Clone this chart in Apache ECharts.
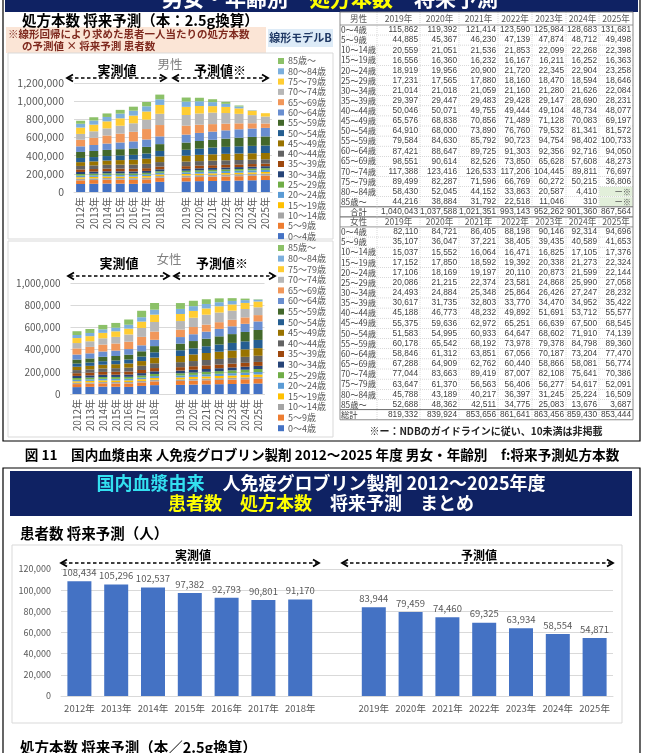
<!DOCTYPE html>
<html><head><meta charset="utf-8">
<script src="https://cdn.jsdelivr.net/npm/echarts@6/dist/echarts.min.js"></script>
<style>html,body{margin:0;padding:0;background:#fff}#c{width:645px;height:753px}</style>
</head><body><div id="c"></div>
<script>
// ---------- DATA ----------
const ageGroups = ['0～4歳','5～9歳','10～14歳','15～19歳','20～24歳','25～29歳','30～34歳','35～39歳','40～44歳','45～49歳','50～54歳','55～59歳','60～64歳','65～69歳','70～74歳','75～79歳','80～84歳','85歳～'];
const actualYears = ['2012年','2013年','2014年','2015年','2016年','2017年','2018年'];
const forecastYears = ['2019年','2020年','2021年','2022年','2023年','2024年','2025年'];

// male prescriptions 2012-2018, one row per age group
const maleActual = [
 [88200,90500,93100,91800,89600,95300,111900],
 [40100,41200,42300,43000,43500,43900,44400],
 [18200,18600,19000,19300,19500,19800,20100],
 [15800,16000,16200,16300,16400,16500,16600],
 [17300,17400,17600,17700,17900,18100,18300],
 [18400,18200,17900,17700,17500,17300,17100],
 [22600,22400,22200,22000,21800,21700,21500],
 [28100,28500,28900,29200,29400,29600,29800],
 [38200,40100,42300,44200,46000,47900,49800],
 [41800,44300,47100,50200,53400,57100,62300],
 [46300,47600,49200,51100,53600,56800,60200],
 [65800,66400,67300,68900,70800,72600,75100],
 [62100,66300,70400,74200,77900,81600,85200],
 [72300,80100,88600,97200,105400,114800,124900],
 [64200,70800,78300,86900,93800,104200,123800],
 [69800,73400,77600,81500,84800,89200,97600],
 [42100,45300,48200,51400,53900,57100,61800],
 [33100,35800,38700,41600,44100,47200,51900]
];
// male prescriptions 2019-2025 (table)
const maleForecast = [
 [115862,119392,121414,123590,125984,128683,131681],
 [44885,45367,46230,47139,47874,48712,49498],
 [20559,21051,21536,21853,22099,22268,22398],
 [16556,16360,16232,16167,16211,16252,16363],
 [18919,19956,20900,21720,22345,22904,23258],
 [17231,17565,17880,18160,18470,18594,18646],
 [21014,21018,21059,21160,21280,21626,22084],
 [29397,29447,29483,29428,29147,28690,28231],
 [50046,50071,49755,49444,49104,48734,48077],
 [65576,68838,70856,71489,71128,70083,69197],
 [64910,68000,73890,76760,79532,81341,81572],
 [79584,84630,85792,90723,94754,98402,100733],
 [87421,88647,89725,91303,92356,92716,94050],
 [98551,90614,82526,73850,65628,57608,48273],
 [117388,123416,126533,117206,104445,89811,76697],
 [89499,82287,71596,66769,60272,50215,36806],
 [58430,52045,44152,33863,20587,4410,null],
 [44216,38884,31792,22518,11046,310,null]
];
const maleForecastTotal = [1040043,1037588,1021351,993143,952262,901360,867564];

// female prescriptions 2012-2018
const femaleActual = [
 [62100,64300,66800,65200,64100,72900,79800],
 [27200,28100,29300,29800,30600,31400,34200],
 [12100,12400,12800,13100,13400,13800,14600],
 [13200,13500,13900,14200,14600,15100,16400],
 [13100,13400,13800,14200,14600,15200,16300],
 [16200,16400,16800,17100,17500,18100,19400],
 [19300,19600,20100,20400,21000,21800,23600],
 [24100,24600,25300,25900,26700,27800,29500],
 [28300,29600,31200,32800,34700,38100,42900],
 [30200,31800,33900,35600,38200,42600,51300],
 [28400,29700,31600,33400,35900,40200,47800],
 [36100,37200,39400,40800,43100,47900,55600],
 [45200,45900,48100,48600,50200,53800,57100],
 [55300,57800,62400,64100,66800,75900,74200],
 [48200,50600,56300,59400,64800,80600,86100],
 [45100,46300,49200,50100,52600,57300,66400],
 [27300,28600,31400,32700,35100,39200,44600],
 [34200,35800,40100,42900,47300,58100,60300]
];
// female prescriptions 2019-2025 (table)
const femaleForecast = [
 [82110,84721,86405,88198,90146,92314,94696],
 [35107,36047,37221,38405,39435,40589,41653],
 [15037,15552,16064,16471,16825,17105,17376],
 [17152,17850,18592,19392,20338,21273,22324],
 [17106,18169,19197,20110,20873,21599,22144],
 [20086,21215,22374,23581,24868,25990,27058],
 [24493,24884,25348,25864,26426,27247,28232],
 [30617,31735,32803,33770,34470,34952,35422],
 [45188,46773,48232,49892,51691,53712,55577],
 [55375,59636,62972,65251,66639,67500,68545],
 [51583,54995,60933,64647,68602,71910,74139],
 [60178,65542,68192,73978,79378,84798,89360],
 [58846,61312,63851,67056,70187,73204,77470],
 [67288,64909,62762,60440,58866,58081,56774],
 [77044,83663,89419,87007,82108,75641,70386],
 [63647,61370,56563,56406,56277,54617,52091],
 [45788,43189,40217,36397,31245,25224,16509],
 [52688,48362,42511,34775,25083,13676,3687]
];
const femaleForecastTotal = [819332,839924,853656,861641,863456,859430,853444];

// patients
const patientsActual = [108434,105296,102537,97382,92793,90801,91170];
const patientsForecast = [83944,79459,74460,69325,63934,58554,54871];

// ---------- STYLE ----------
const colors = ['#4472C4','#ED7D31','#A5A5A5','#FFC000','#5B9BD5','#70AD47','#264478','#9E480E','#636363','#997300','#255E91','#43682B','#698ED0','#F1975A','#B7B7B7','#FFCD33','#7CAFDD','#8CC168'];
const FF = '"Noto Sans CJK JP", "Noto Sans", sans-serif';
const fmt = v => Number(v).toLocaleString('en-US');
const cats = actualYears.concat([''], forecastYears);
const join = (a, f) => a.concat(['-'], f.map(v => v == null ? '-' : v));

const G = [];
function txt(s, x, y, o) {
  o = o || {};
  const a = o.a || 'left', va = o.va || 'middle';
  const style = {text: s, font: (o.w || 'normal') + ' ' + (o.s || 12) + 'px ' + (o.f || FF),
    fill: o.c || '#000', textFill: o.c || '#000', align: a, textAlign: a, verticalAlign: va, textVerticalAlign: va};
  if (o.rich) style.rich = o.rich;
  G.push({type: 'text', x: x, y: y, silent: true, z: 20, style: style});
}
function rect(x, y, w, h, fill, stroke, lw, z) {
  G.push({type: 'rect', silent: true, z: z || 1, shape: {x: x, y: y, width: w, height: h},
    style: {fill: fill || 'none', stroke: stroke || 'none', lineWidth: lw || 1}});
}
function line(x1, y1, x2, y2, stroke, lw, dash) {
  G.push({type: 'line', silent: true, z: 5, shape: {x1: x1, y1: y1, x2: x2, y2: y2},
    style: {stroke: stroke, lineWidth: lw || 1, lineDash: dash || null}});
}
function arrow(x1, x2, y) {
  line(x1 + 2, y, x2 - 2, y, '#000', 1.6, [3.5, 2.5]);
  G.push({type: 'polyline', silent: true, z: 5, shape: {points: [[x1 + 6, y - 3.5], [x1, y], [x1 + 6, y + 3.5]]}, style: {stroke: '#000', lineWidth: 1.8, fill: 'none'}});
  G.push({type: 'polyline', silent: true, z: 5, shape: {points: [[x2 - 6, y - 3.5], [x2, y], [x2 - 6, y + 3.5]]}, style: {stroke: '#000', lineWidth: 1.8, fill: 'none'}});
}

// ---- top panel ----
rect(3, -2, 637, 443, 'none', '#000', 1.2);
rect(5, -30, 633, 42, '#0f2263', null, 1, 2);
txt('{w|男女・年齢別　}{y|処方本数}{w|　将来予測}', 330, -2, {a: 'center', s: 21, w: 'bold', c: '#fff',
  rich: {w: {fill: '#fff', textFill: '#fff', font: 'bold 21px ' + FF}, y: {fill: '#FFFF00', textFill: '#FFFF00', font: 'bold 21px ' + FF}}});
txt('処方本数 将来予測（本：2.5g換算）', 22, 20, {s: 14.5, w: 'bold'});
rect(6, 27, 260, 26, '#FBE5D6');
txt('※線形回帰により求めた患者一人当たりの処方本数', 8, 34, {s: 10.5, w: 'bold', c: '#7f2a1f'});
txt('の予測値 × 将来予測 患者数', 22, 46, {s: 10.5, w: 'bold', c: '#7f2a1f'});
rect(268, 29, 65, 18, '#DDEBF7');
txt('線形モデルB', 300.5, 38, {a: 'center', s: 11, w: 'bold', c: '#1F3864'});
rect(8, 53, 325, 186, 'none', '#D9D9D9', 1);
rect(8, 241, 325, 196, 'none', '#D9D9D9', 1);

// male chart annotations
txt('男性', 170, 64, {a: 'center', s: 12.5, c: '#7F7F7F'});
txt('実測値', 117, 70, {a: 'center', s: 13, w: 'bold'});
txt('予測値※', 220, 70, {a: 'center', s: 13, w: 'bold'});
arrow(67, 166, 78); arrow(173, 268, 78);
// female chart annotations
txt('女性', 169, 259, {a: 'center', s: 12.5, c: '#7F7F7F'});
txt('実測値', 119, 263, {a: 'center', s: 13, w: 'bold'});
txt('予測値※', 222, 263, {a: 'center', s: 13, w: 'bold'});
arrow(68, 169, 276); arrow(174, 275, 276);

// ---- table ----
const colX = [340, 377, 420, 459, 498, 532, 566, 599, 633];
function tableBlock(head, rows, totals, totalLabel, totalAlign, top, headH, rowH) {
  const hc = top + headH / 2;
  txt(head, (colX[0] + colX[1]) / 2, hc, {a: 'center', s: 8.6, c: '#595959'});
  forecastYears.forEach((y, j) => txt(y, (colX[j + 1] + colX[j + 2]) / 2, hc, {a: 'center', s: 8.6, c: '#595959'}));
  const r0 = top + headH;
  line(colX[0], r0, colX[8], r0, '#7F7F7F', 0.8);
  ageGroups.forEach((g, i) => {
    const yc = r0 + rowH * i + rowH / 2;
    txt(g, colX[0] + 1, yc, {s: 8.3, c: '#404040'});
    rows[i].forEach((v, j) => {
      if (v == null) {
        rect(colX[j + 1] + 0.5, r0 + rowH * i + 0.5, colX[j + 2] - colX[j + 1] - 1, rowH - 1, '#E2EFDA');
        txt('ー※', colX[j + 2] - 2, yc, {a: 'right', s: 8.3, c: '#595959'});
      } else {
        txt(fmt(v), colX[j + 2] - 2, yc, {a: 'right', s: 8.3, c: '#404040', f: '"Liberation Sans", ' + FF});
      }
    });
    if (i > 0) line(colX[0], r0 + rowH * i, colX[8], r0 + rowH * i, '#BFBFBF', 0.6, [1, 1]);
  });
  const tt = r0 + rowH * 18;
  line(colX[0], tt, colX[8], tt, '#595959', 0.9);
  const tc = tt + rowH / 2;
  txt(totalLabel, totalAlign === 'center' ? (colX[0] + colX[1]) / 2 : colX[0] + 1, tc, {a: totalAlign, s: 8.3, c: '#404040'});
  totals.forEach((v, j) => txt(fmt(v), colX[j + 2] - 2, tc, {a: 'right', s: 8.3, c: '#404040', f: '"Liberation Sans", ' + FF}));
  return tt + rowH;
}
const mEnd = tableBlock('男性', maleForecast, maleForecastTotal, '合計', 'center', 12, 13, 10.1);
line(colX[0], mEnd, colX[8], mEnd, '#595959', 1);
const fEnd = tableBlock('女性', femaleForecast, femaleForecastTotal, '総計', 'left', mEnd, 10, 10.15);
for (let k = 1; k < 8; k++) line(colX[k], 12, colX[k], fEnd, '#BFBFBF', 0.6, [1, 1]);
rect(colX[0], 12, colX[8] - colX[0], fEnd - 12, 'none', '#7F7F7F', 0.9, 6);
txt('※ー：NDBのガイドラインに従い、10未満は非掲載', 486, 431, {a: 'center', s: 10, w: 'bold', c: '#222'});

// caption
txt('図 11　国内血漿由来 人免疫グロブリン製剤 2012～2025 年度 男女・年齢別　f:将来予測処方本数', 322, 455, {a: 'center', s: 13.6, w: 'bold'});

// ---- bottom panel ----
rect(3, 468, 637, 300, 'none', '#000', 1.2);
rect(10, 471, 622, 45, '#0f2263', null, 1, 2);
txt('{c|国内血漿由来}{w|　人免疫グロブリン製剤 2012～2025年度}', 321, 483, {a: 'center', s: 18, w: 'bold', c: '#fff',
  rich: {c: {fill: '#33E0F0', textFill: '#33E0F0', font: 'bold 18px ' + FF}, w: {fill: '#fff', textFill: '#fff', font: 'bold 18px ' + FF}}});
txt('{y|患者数}{w|　}{y|処方本数}{w|　将来予測　まとめ}', 321, 503, {a: 'center', s: 18, w: 'bold', c: '#fff',
  rich: {y: {fill: '#FFFF00', textFill: '#FFFF00', font: 'bold 18px ' + FF}, w: {fill: '#fff', textFill: '#fff', font: 'bold 18px ' + FF}}});
txt('患者数 将来予測（人）', 20, 533, {s: 14.5, w: 'bold'});
rect(12, 545, 610, 178, 'none', '#D9D9D9', 1);
txt('実測値', 193, 555, {a: 'center', s: 12, w: 'bold'});
txt('予測値', 479, 555, {a: 'center', s: 12, w: 'bold'});
arrow(61, 319, 563); arrow(342, 613, 563);
txt('処方本数 将来予測（本／2.5g換算）', 20, 747, {s: 14.5, w: 'bold'});

// ---------- SERIES ----------
const series = [];
ageGroups.forEach((g, i) => {
  series.push({type: 'bar', name: g, xAxisIndex: 0, yAxisIndex: 0, stack: 'male', barWidth: 9,
    itemStyle: {color: colors[i]}, data: join(maleActual[i], maleForecast[i])});
});
ageGroups.forEach((g, i) => {
  series.push({type: 'bar', name: g, xAxisIndex: 1, yAxisIndex: 1, stack: 'female', barWidth: 9,
    itemStyle: {color: colors[i]}, data: join(femaleActual[i], femaleForecast[i])});
});
series.push({type: 'bar', name: '患者数', xAxisIndex: 2, yAxisIndex: 2, barWidth: 24,
  itemStyle: {color: '#4472C4'}, data: join(patientsActual, patientsForecast),
  label: {show: true, position: 'top', distance: 4, fontSize: 9.5, color: '#595959', fontFamily: FF, formatter: p => fmt(p.value)}});

const xBase = (gi, rot, fs, margin) => ({gridIndex: gi, type: 'category', data: cats,
  axisTick: {show: false}, axisLine: {lineStyle: {color: '#D9D9D9'}},
  axisLabel: {interval: 0, rotate: rot, fontSize: fs, color: '#595959', margin: margin, fontFamily: FF}});
const yBase = (gi, max, interval, fs) => ({gridIndex: gi, type: 'value', min: 0, max: max, interval: interval,
  axisLine: {show: false}, axisTick: {show: false}, splitLine: {lineStyle: {color: '#D9D9D9'}},
  axisLabel: {fontSize: fs, color: '#595959', margin: 10, fontFamily: FF, formatter: v => fmt(v)}});

const legendData = ageGroups.slice().reverse();
const legendBase = (top, gap) => ({orient: 'vertical', left: 278, top: top, itemWidth: 6, itemHeight: 6, itemGap: gap,
  icon: 'rect', padding: 0, selectedMode: false, data: legendData,
  textStyle: {fontSize: 9, lineHeight: 10, color: '#595959', fontFamily: FF, padding: [0, 0, 0, -1]}});

const chart = echarts.init(document.getElementById('c'), null, {renderer: 'canvas'});
chart.setOption({
  animation: false,
  backgroundColor: '#fff',
  textStyle: {fontFamily: FF},
  grid: [
    {left: 74, top: 83, width: 198, height: 109},
    {left: 70.5, top: 283, width: 194, height: 111},
    {left: 61, top: 569, width: 552, height: 127}
  ],
  xAxis: [xBase(0, 90, 10, 5), xBase(1, 90, 10, 5), xBase(2, 0, 9.5, 8)],
  yAxis: [yBase(0, 1200000, 200000, 10.5), yBase(1, 1000000, 200000, 10), yBase(2, 120000, 20000, 9)],
  legend: [legendBase(56, 0.3), legendBase(243, 0.6)],
  series: series,
  graphic: {elements: G}
});
</script></body></html>
